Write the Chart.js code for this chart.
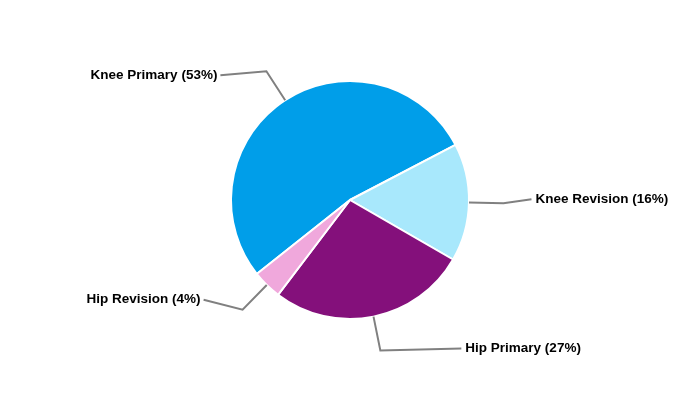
<!DOCTYPE html>
<html>
<head>
<meta charset="utf-8">
<script src="https://cdn.jsdelivr.net/npm/chart.js@4/dist/chart.umd.min.js"></script>
<style>
  html, body { margin: 0; padding: 0; background: #fff; }
  #wrap { width: 700px; height: 400px; }
</style>
</head>
<body>
<div id="wrap"><canvas id="pieChart" width="700" height="400"></canvas></div>
<script>
// datos del gráfico
const categorias = ['Knee Primary', 'Knee Revision', 'Hip Primary', 'Hip Revision'];
const valores = [53, 16, 27, 4];
const colores = ['#009ee9', '#a8e8fc', '#84107b', '#f0a8dc'];

// desplazamiento del tramo final de cada línea guía (dx, dy)
const guias = [[-46, 4], [28, -4], [81, -2], [-39, -10]];

// --- Etiquetas con líneas guía ---
const etiquetasPlugin = {
    id: 'etiquetas',
    afterDatasetsDraw(chart) {
        const ctx = chart.ctx;
        const meta = chart.getDatasetMeta(0);
        const total = valores.reduce((a, b) => a + b, 0);
        ctx.save();
        ctx.font = 'bold 13.5px "Liberation Sans", Arial, sans-serif';
        ctx.textBaseline = 'middle';
        meta.data.forEach(function (arc, i) {
            const mid = (arc.startAngle + arc.endAngle) / 2;
            const r = arc.outerRadius;
            const cx = Math.cos(mid), cy = Math.sin(mid);
            const x1 = arc.x + cx * r, y1 = arc.y + cy * r;
            const x2 = arc.x + cx * r * 1.29, y2 = arc.y + cy * r * 1.29;
            const x3 = x2 + guias[i][0], y3 = y2 + guias[i][1];
            ctx.strokeStyle = '#808080';
            ctx.lineWidth = 2;
            ctx.beginPath();
            ctx.moveTo(x1, y1);
            ctx.lineTo(x2, y2);
            ctx.lineTo(x3, y3);
            ctx.stroke();
            const derecha = guias[i][0] > 0;
            const pct = Math.round(valores[i] / total * 100);
            ctx.fillStyle = '#000';
            ctx.textAlign = derecha ? 'left' : 'right';
            ctx.fillText(categorias[i] + ' (' + pct + '%)', x3 + (derecha ? 4 : -3), y3);
        });
        ctx.restore();
    }
};

new Chart(document.getElementById('pieChart'), {
    type: 'pie',
    data: {
        labels: categorias,
        datasets: [{
            data: valores,
            backgroundColor: colores,
            borderColor: '#ffffff',
            borderWidth: 2
        }]
    },
    options: {
        responsive: false,
        animation: false,
        rotation: 231.6,
        layout: { padding: { top: 80, bottom: 80, left: 0, right: 0 } },
        plugins: {
            legend: { display: false },
            tooltip: { enabled: false }
        }
    },
    plugins: [etiquetasPlugin]
});
</script>
</body>
</html>
